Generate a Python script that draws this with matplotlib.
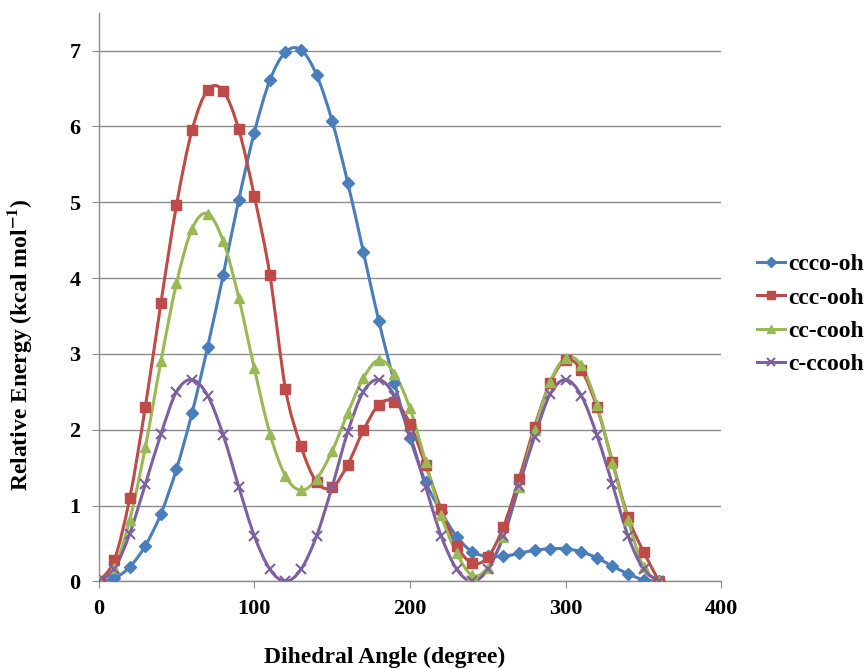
import matplotlib.pyplot as plt
import numpy as np
from matplotlib.path import Path
from matplotlib.patches import PathPatch
from matplotlib.lines import Line2D

plt.rcParams['font.family'] = ['Liberation Serif', 'DejaVu Serif']
plt.rcParams['mathtext.fontset'] = 'stix'

# dihedral angle, every 10 degrees
angle = list(range(0, 370, 10))

ccco_oh = [0.0, 0.04, 0.19, 0.47, 0.89, 1.48, 2.22, 3.09, 4.04, 5.03, 5.92, 6.61, 6.98, 7.01, 6.68,
           6.07, 5.26, 4.35, 3.43, 2.62, 1.89, 1.31, 0.92, 0.59, 0.39, 0.33, 0.33, 0.37, 0.41, 0.43,
           0.43, 0.39, 0.31, 0.2, 0.1, 0.02, 0.0]
ccc_ooh = [0.0, 0.28, 1.1, 2.3, 3.67, 4.96, 5.95, 6.48, 6.47, 5.96, 5.08, 4.04, 2.54, 1.78, 1.31,
           1.24, 1.54, 1.99, 2.33, 2.37, 2.08, 1.53, 0.95, 0.47, 0.24, 0.32, 0.72, 1.35, 2.04, 2.62,
           2.92, 2.79, 2.3, 1.58, 0.85, 0.39, 0.0]
cc_cooh = [0.0, 0.18, 0.81, 1.77, 2.9, 3.93, 4.65, 4.85, 4.49, 3.74, 2.81, 1.95, 1.39, 1.2, 1.35,
           1.72, 2.22, 2.68, 2.92, 2.74, 2.28, 1.58, 0.87, 0.37, 0.08, 0.18, 0.59, 1.25, 2.0, 2.63,
           2.95, 2.85, 2.33, 1.56, 0.81, 0.19, 0.0]
c_ccooh = [0.0, 0.16, 0.63, 1.28, 1.94, 2.5, 2.66, 2.45, 1.93, 1.25, 0.6, 0.16, 0.0, 0.16, 0.6,
           1.25, 1.97, 2.5, 2.66, 2.45, 1.93, 1.25, 0.6, 0.16, 0.0, 0.16, 0.6, 1.26, 1.91, 2.47,
           2.66, 2.45, 1.93, 1.28, 0.6, 0.16, 0.0]

series = [
    ('ccco-oh', ccco_oh, '#4A7EBB', 'D', 6),
    ('ccc-ooh', ccc_ooh, '#BE4B48', 's', 7.5),
    ('cc-cooh', cc_cooh, '#98B954', '^', 7.5),
    ('c-ccooh', c_ccooh, '#7D60A0', 'x', 7),
]


def smooth_path(x, y):
    # excel-like smoothed line: cubic bezier through every point
    x = np.asarray(x, float)
    y = np.asarray(y, float)
    pts = np.column_stack([x, y])
    n = len(pts)
    verts = [pts[0]]
    codes = [Path.MOVETO]
    for i in range(n - 1):
        p0 = pts[i - 1] if i > 0 else pts[i]
        p1 = pts[i]
        p2 = pts[i + 1]
        p3 = pts[i + 2] if i + 2 < n else pts[i + 1]
        c1 = p1 + (p2 - p0) / 6.0
        c2 = p2 - (p3 - p1) / 6.0
        verts += [c1, c2, p2]
        codes += [Path.CURVE4] * 3
    return Path(verts, codes)


fig = plt.figure(figsize=(8.65, 6.69), dpi=100)
ax = fig.add_axes([0.114, 0.131, 0.72, 0.85])

grid_col = '#8c8c8c'
handles = []
for name, vals, col, mk, ms in series:
    patch = PathPatch(smooth_path(angle, vals), facecolor='none', edgecolor=col,
                      linewidth=2.2, zorder=3)
    ax.add_patch(patch)
    mew = 1.5 if mk == 'x' else 1
    ax.plot(angle, vals, linestyle='none', marker=mk, markersize=ms, color=col,
            markeredgewidth=mew, zorder=4)
    handles.append(Line2D([], [], color=col, linewidth=2.2, marker=mk, markersize=ms * 0.8,
                          markeredgewidth=mew, label=name))

ax.set_xlim(0, 400)
ax.set_ylim(0, 7.5)
ax.set_xticks([0, 100, 200, 300, 400])
ax.set_yticks(range(0, 8))
ax.yaxis.grid(True, color=grid_col, linewidth=1)
ax.set_axisbelow(True)

for s in ['top', 'right']:
    ax.spines[s].set_visible(False)
for s in ['left', 'bottom']:
    ax.spines[s].set_color(grid_col)
    ax.spines[s].set_linewidth(1)
ax.tick_params(axis='both', direction='out', length=5, color=grid_col,
               labelsize=16, pad=8)
for lbl in ax.get_xticklabels() + ax.get_yticklabels():
    lbl.set_fontweight('bold')

# axis titles placed like the excel chart (x title centred on chart area)
fig.text(385 / 865, 1 - 657 / 669, 'Dihedral Angle (degree)', fontsize=17,
         fontweight='bold', ha='center', va='center')
fig.text(20 / 865, 1 - 345 / 669, r'Relative Energy (kcal mol$^{\mathbf{-1}}$)',
         fontsize=17, fontweight='bold', rotation=90, ha='center', va='center')

fig.legend(handles=handles, loc='center left', bbox_to_anchor=(0.85, 0.53),
           frameon=False, prop={'size': 17, 'weight': 'bold'},
           handlelength=1.2, handletextpad=0.15, labelspacing=0.5)

fig.savefig('out.png', dpi=100)
